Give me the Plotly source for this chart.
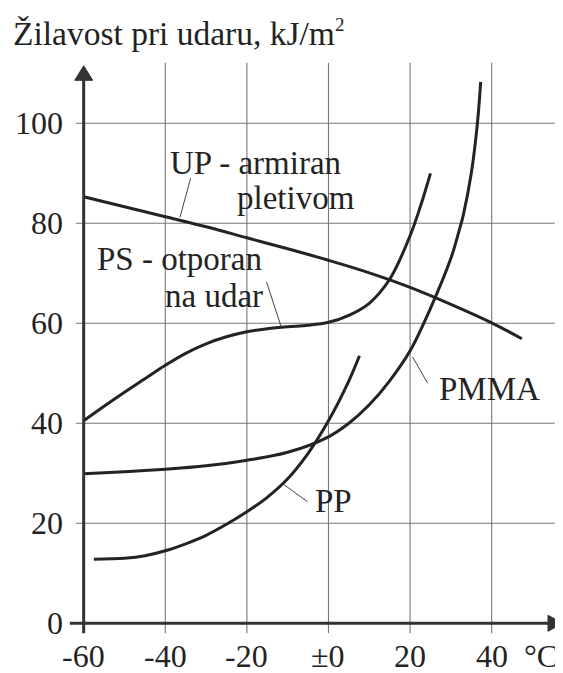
import plotly.graph_objects as go

# ---------------- data ----------------
up_x = [-60, -50, -40, -30, -20, -10, 0, 10, 20, 30, 40, 47.4]
up_y = [85.3, 83.3, 81.3, 79.3, 77.1, 74.9, 72.6, 70.1, 67.2, 63.8, 60.1, 56.9]

ps_x = [-60, -55, -50, -45, -40, -35, -30, -25, -20, -15, -10, -5, 0, 5, 10, 15, 20, 22.5, 25]
ps_y = [40.5, 43.4, 46.2, 48.9, 51.6, 54.0, 55.9, 57.3, 58.3, 58.9, 59.3, 59.6, 60.2, 61.6, 64.0, 68.8, 77.5, 83.3, 90.0]

pmma_x = [-60, -50, -40, -30, -20, -10, 0, 5, 10, 15, 20, 25, 30, 32, 33, 35, 36.5, 37.3]
pmma_y = [29.9, 30.3, 30.8, 31.5, 32.6, 34.2, 37.3, 40.0, 43.7, 48.5, 54.5, 63.0, 73.0, 78.5, 81.5, 90.0, 100.0, 108.3]

pp_x = [-57.5, -50, -45, -40, -35, -30, -25, -20, -15, -10, -5, 0, 5, 7.6]
pp_y = [12.8, 13.0, 13.5, 14.5, 15.9, 17.6, 19.8, 22.3, 25.2, 28.9, 34.0, 40.5, 48.5, 53.5]

x_ticks = [-60, -40, -20, 0, 20, 40]
x_tick_labels = ["-60", "-40", "-20", "±0", "20", "40"]
y_ticks = [0, 20, 40, 60, 80, 100]
y_tick_labels = ["0", "20", "40", "60", "80", "100"]

title_text = "Žilavost pri udaru, kJ/m<sup><span style='font-size:19px'>2</span></sup>"
unit_text = "°C"

# curve labels: (text, anchor x, anchor y)
label_texts = ["UP - armiran", "pletivom", "PS - otporan", "na udar", "PMMA", "PP"]
label_x = [-39.3, -22.9, -57.3, -40.5, 26.6, -3.9]
label_y = [92.1, 85.0, 72.8, 65.4, 46.8, 24.4]

# leader lines (from label to curve)
leader_x0 = [-33.8, -15.2, 24.3, -5.1]
leader_y0 = [89.0, 68.3, 48.0, 24.3]
leader_x1 = [-36.4, -11.6, 20.6, -11.2]
leader_y1 = [81.2, 59.3, 53.3, 27.9]

# ---------------- figure ----------------
INK = "#232323"
GRID = "#777777"
FONT = "Liberation Serif, Times New Roman, serif"
FS_TICK = 32
FS_LABEL = 33
FS_TITLE = 33.5

# page body has an 8px margin: ranges are chosen so that the drawing lands on the
# intended window pixels
X_MIN, X_MAX = -78.55, 59.44
Y_MIN, Y_MAX = -11.54, 123.06

fig = go.Figure()

shapes = []
for yv in y_ticks[1:]:
    shapes.append(dict(type="line", xref="x", yref="y", x0=-61.9, x1=X_MAX, y0=yv, y1=yv,
                       line=dict(color=GRID, width=1.1), layer="below"))
for xv in x_ticks[1:]:
    shapes.append(dict(type="line", xref="x", yref="y", x0=xv, x1=xv, y0=-2.0, y1=112.1,
                       line=dict(color=GRID, width=1.1), layer="below"))
shapes.append(dict(type="line", xref="x", yref="y", x0=-60, x1=-60, y0=-2.0, y1=109.0,
                   line=dict(color="#333", width=3)))
shapes.append(dict(type="line", xref="x", yref="y", x0=-63.4, x1=54.0, y0=0, y1=0,
                   line=dict(color="#333", width=3)))
shapes.append(dict(type="path", xref="x", yref="y",
                   path="M -62.2 108.6 L -57.8 108.6 L -60 111.5 Z",
                   fillcolor="#333", line=dict(color="#333", width=1)))
shapes.append(dict(type="path", xref="x", yref="y",
                   path="M 53.8 1.6 L 53.8 -1.6 L 57.5 0 Z",
                   fillcolor="#333", line=dict(color="#333", width=1)))
for a, b, c, d in zip(leader_x0, leader_y0, leader_x1, leader_y1):
    shapes.append(dict(type="line", xref="x", yref="y", x0=a, y0=b, x1=c, y1=d,
                       line=dict(color="#444", width=1)))

for xs, ys in [(up_x, up_y), (ps_x, ps_y), (pmma_x, pmma_y), (pp_x, pp_y)]:
    fig.add_trace(go.Scatter(x=xs, y=ys, mode="lines", hoverinfo="skip",
                             line=dict(color=INK, width=3, shape="spline", smoothing=1.0)))

annotations = []
for xv, t in zip(x_ticks, x_tick_labels):
    annotations.append(dict(x=xv, y=-6.6, text=t, showarrow=False, xanchor="center",
                            yanchor="middle", font=dict(family=FONT, size=FS_TICK, color=INK)))
annotations.append(dict(x=52.1, y=-6.6, text=unit_text, showarrow=False, xanchor="center",
                        yanchor="middle", font=dict(family=FONT, size=FS_TICK, color=INK)))
for yv, t in zip(y_ticks, y_tick_labels):
    annotations.append(dict(x=-64.6, y=yv, text=t, showarrow=False, xanchor="right",
                            yanchor="middle", font=dict(family=FONT, size=FS_TICK, color=INK)))
for t, xv, yv in zip(label_texts, label_x, label_y):
    annotations.append(dict(x=xv, y=yv, text=t, showarrow=False, xanchor="left",
                            yanchor="middle", font=dict(family=FONT, size=FS_LABEL, color=INK)))
annotations.append(dict(x=-77.9, y=118.1, text=title_text, showarrow=False, xanchor="left",
                        yanchor="middle", font=dict(family=FONT, size=FS_TITLE, color=INK)))

fig.update_layout(
    width=563, height=673,
    margin=dict(l=0, r=0, t=0, b=0),
    paper_bgcolor="white", plot_bgcolor="white",
    showlegend=False,
    xaxis=dict(range=[X_MIN, X_MAX], visible=False, fixedrange=True),
    yaxis=dict(range=[Y_MIN, Y_MAX], visible=False, fixedrange=True),
    shapes=shapes,
    annotations=annotations,
)

fig.write_html("out.html")
